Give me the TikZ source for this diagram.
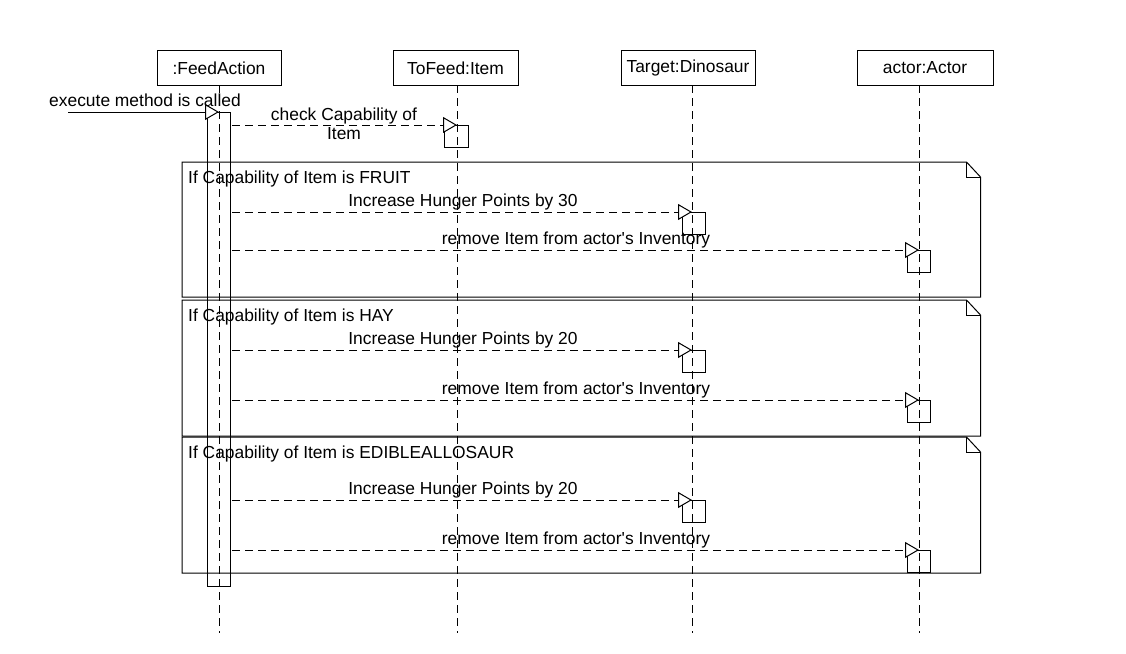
\documentclass[tikz,border=0pt]{standalone}
\usepackage{fontspec}
\setmainfont{Liberation Sans}
\usetikzlibrary{arrows.meta}
\tikzset{
  x=1pt, y=-1pt,
  every node/.style={inner sep=0pt, font=\fontsize{17.4}{19}\selectfont},
  thinline/.style={line width=1pt, line cap=butt},
  obj/.style={draw, thinline, minimum height=35pt, anchor=north},
  lifeline/.style={thinline, dash pattern=on 8pt off 5pt},
  msg/.style={thinline, dash pattern=on 8pt off 5pt, -{Triangle[length=14pt, width=16pt, fill=white, line width=1pt]}},
  call/.style={thinline, -{Triangle[length=14pt, width=16pt, fill=white, line width=1pt]}},
  actbox/.style={draw, thinline, minimum width=23pt, minimum height=22pt, anchor=north},
  mlabel/.style={anchor=base},
  flabel/.style={anchor=base west},
  framebox/.style={thinline, line join=miter}
}
\begin{document}
\begin{tikzpicture}
\useasboundingbox (0,0) rectangle (1126,653);

% objects
\node[obj, minimum width=124pt] (fa) at (219,50) {:FeedAction};
\node[obj, minimum width=125pt] (tf) at (455.5,50) {ToFeed:Item};
\node[obj, minimum width=134pt] (td) at (688,50) {Target:Dinosaur};
\node[obj, minimum width=136pt] (ac) at (925,50) {actor:Actor};

% lifeline ends
\coordinate (faEnd) at (219,633);
\coordinate (tfEnd) at (457,633);
\coordinate (tdEnd) at (692,633);
\coordinate (acEnd) at (919,633);
\coordinate (faTop) at (219,85);
\coordinate (tfTop) at (457,85);
\coordinate (tdTop) at (692,85);
\coordinate (acTop) at (919,85);

% frames
\foreach \t/\b in {162/297, 300/436, 437/573}{
  \draw[framebox] (182,\t) -- (966.5,\t) -- (980.5,\t+15) -- (980.5,\b) -- (182,\b) -- cycle;
  \draw[framebox] (966.5,\t) -- (966.5,\t+15) -- (980.5,\t+15);
}
\node[flabel] (f1) at (188,183) {If Capability of Item is FRUIT};
\node[flabel] (f2) at (188,321) {If Capability of Item is HAY};
\node[flabel] (f3) at (188,458) {If Capability of Item is EDIBLEALLOSAUR};

% lifelines
\draw[lifeline] (faTop) -- (faEnd);
\draw[lifeline] (tfTop) -- (tfEnd);
\draw[lifeline] (tdTop) -- (tdEnd);
\draw[lifeline] (acTop) -- (acEnd);

% main activation
\node[draw, thinline, minimum width=22.5pt, minimum height=474pt, anchor=north] (bar) at (218.75,112) {};

% execute call
\coordinate (ex0) at (68,112);
\coordinate (ex1) at (219,112);
\draw[call] (ex0) -- (ex1);
\node[mlabel] (exl) at (145,106.5) {execute method is called};

% check capability
\node[actbox, minimum width=24pt] (chk) at (456,125) {};
\coordinate (c0) at (232,125);
\coordinate (c1) at (457,125);
\draw[msg] (c0) -- (c1);
\node[anchor=north, align=center] (chkl) at (344,107.5) {check Capability of\\Item};

% messages in frames
\foreach \y/\n/\nm in {212/30/a, 350/20/b, 500/20/c}{
  \node[actbox] (inc\nm) at (693.5,\y) {};
  \coordinate (i0\nm) at (232,\y);
  \coordinate (i1\nm) at (692,\y);
  \draw[msg] (i0\nm) -- (i1\nm);
  \node[mlabel] (il\nm) at (463,\y-6) {Increase Hunger Points by \n};
}
\foreach \y/\nm in {250/a, 400/b, 550/c}{
  \node[actbox] (rem\nm) at (918.5,\y) {};
  \coordinate (r0\nm) at (232,\y);
  \coordinate (r1\nm) at (919,\y);
  \draw[msg] (r0\nm) -- (r1\nm);
  \node[mlabel] (rl\nm) at (576,\y-6) {remove Item from actor\textquotesingle s Inventory};
}
\end{tikzpicture}
\end{document}
